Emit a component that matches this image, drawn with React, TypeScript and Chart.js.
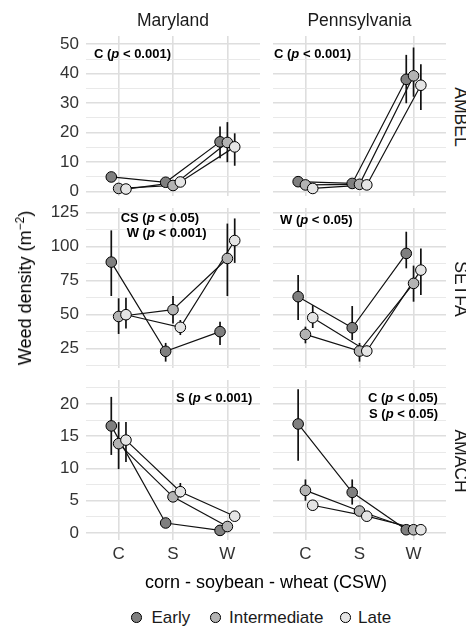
import React, { useEffect, useRef } from 'react';
import { Chart, registerables } from 'chart.js';
Chart.register(...registerables);

const FONT = '"Liberation Sans", Arial, Helvetica, sans-serif';

const categories = ['C', 'S', 'W'];
const timings = ['Early', 'Intermediate', 'Late'];
const timingFills = ['#7f7f7f', '#b3b3b3', '#e5e5e5'];
const regions = ['Maryland', 'Pennsylvania'];
const species = ['AMBEL', 'SETFA', 'AMACH'];

const ambelTicks = [0, 10, 20, 30, 40, 50];
const setfaTicks = [25, 50, 75, 100, 125];
const amachTicks = [0, 5, 10, 15, 20];

// rows: Early, Intermediate, Late ; columns: C, S, W
const ambelMdMean = [[5.0, 3.2, 16.9], [1.1, 2.1, 16.7], [0.9, 3.3, 15.2]];
const ambelMdLo = [[null, null, 11.3], [null, null, 10.0], [null, null, 8.8]];
const ambelMdHi = [[null, null, 22.1], [null, null, 23.6], [null, null, 19.8]];

const ambelPaMean = [[3.4, 2.8, 38.1], [2.3, 2.5, 39.3], [1.1, 2.3, 36.1]];
const ambelPaLo = [[null, null, 30.0], [null, null, 32.2], [null, null, 27.7]];
const ambelPaHi = [[null, null, 46.4], [null, null, 48.9], [null, null, 43.2]];

const setfaMdMean = [[88.6, 22.8, 37.3], [48.5, 53.5, 91.3], [49.8, 40.5, 104.5]];
const setfaMdLo = [[63.6, 15.2, 27.5], [35.6, 43.4, 63.6], [39.7, 34.8, 88.0]];
const setfaMdHi = [[112.0, 29.0, 44.7], [61.9, 63.6, 117.0], [62.3, 45.9, 120.8]];

const setfaPaMean = [[63.1, 40.2, 95.0], [35.3, 23.0, 72.9], [47.6, 23.0, 82.7]];
const setfaPaLo = [[45.9, 31.1, 84.0], [28.7, 15.2, 59.4], [40.0, 19.0, 64.3]];
const setfaPaHi = [[79.0, 56.2, 111.0], [41.0, 29.0, 86.0], [56.9, 27.0, 98.7]];

const amachMdMean = [[16.6, 1.55, 0.4], [13.85, 5.6, 1.0], [14.4, 6.4, 2.6]];
const amachMdLo = [[12.1, null, null], [9.9, null, null], [11.0, 5.5, null]];
const amachMdHi = [[21.1, null, null], [17.2, null, null], [17.2, 7.75, null]];

const amachPaMean = [[16.9, 6.3, 0.5], [6.6, 3.4, 0.5], [4.3, 2.6, 0.5]];
const amachPaLo = [[11.2, 4.4, null], [5.0, null, null], [null, null, null]];
const amachPaHi = [[22.3, 8.3, null], [8.3, null, null], [null, null, null]];

const dodge = [-0.135, 0, 0.135];

// layout
const colLeft = [86, 273];
const colRight = [260, 446];
const rowTop = [36, 208, 380];
const rowBottom = [196, 368, 540];
const rowLimits = [[-1.46, 52.8], [10.5, 128.5], [-1.09, 23.72]];
const rowTicks = [ambelTicks, setfaTicks, amachTicks];

const panelData = [
  [[ambelMdMean, ambelMdLo, ambelMdHi], [ambelPaMean, ambelPaLo, ambelPaHi]],
  [[setfaMdMean, setfaMdLo, setfaMdHi], [setfaPaMean, setfaPaLo, setfaPaHi]],
  [[amachMdMean, amachMdLo, amachMdHi], [amachPaMean, amachPaLo, amachPaHi]],
];

type PanelProps = { row: number; col: number };

function Panel({ row, col }: PanelProps) {
  const ref = useRef<HTMLCanvasElement>(null);
  const padTop = 12;
  const padRight = 4;
  const leftExtra = col === 0 ? colLeft[0] : 0;
  const bottomExtra = row === 2 ? 30 : 0;
  const padBottom = row === 2 ? 0 : 8;
  const pw = colRight[col] - colLeft[col];
  const ph = rowBottom[row] - rowTop[row];
  const cw = leftExtra + pw + padRight;
  const chh = padTop + ph + bottomExtra + padBottom;
  const left = colLeft[col] - leftExtra;
  const top = rowTop[row] - padTop;

  useEffect(() => {
    const canvas = ref.current!;
    const [mean, lo, hi] = panelData[row][col];
    const [yMin, yMax] = rowLimits[row];
    const ticks = rowTicks[row];
    const step = ticks[1] - ticks[0];
    const gridVals: number[] = [];
    for (let v = ticks[0] - step / 2; v <= ticks[ticks.length - 1] + step / 2 + 1e-9; v += step / 2) {
      if (v >= yMin && v <= yMax) gridVals.push(+v.toFixed(4));
    }
    const major = new Set(ticks);

    const datasets: any[] = [];
    timings.forEach((t, k) => {
      const pts = categories.map((c, i) => ({ x: i + 1 + dodge[k], y: mean[k][i] }));
      datasets.push({
        label: t,
        data: pts,
        showLine: false,
        pointRadius: 5.3,
        pointBackgroundColor: timingFills[k],
        pointBorderColor: '#000',
        pointBorderWidth: 1,
        order: 2 - k,
        clip: false,
      });
    });
    timings.forEach((t, k) => {
      const pts = categories.map((c, i) => ({ x: i + 1 + dodge[k], y: mean[k][i] }));
      datasets.push({
        label: t + ' line',
        data: pts,
        pointRadius: 0,
        borderColor: '#111',
        borderWidth: 1.2,
        fill: false,
        tension: 0,
        order: 10 - k,
        clip: false,
      });
    });

    const errPlugin = {
      id: 'errbars',
      beforeDatasetsDraw(chart: any) {
        const { ctx } = chart;
        const xs = chart.scales.x;
        const ys = chart.scales.y;
        ctx.save();
        ctx.strokeStyle = '#111';
        ctx.lineWidth = 1.7;
        timings.forEach((t, k) => {
          categories.forEach((c, i) => {
            const l = lo[k][i];
            const h = hi[k][i];
            if (l == null || h == null) return;
            const px = xs.getPixelForValue(i + 1 + dodge[k]);
            ctx.beginPath();
            ctx.moveTo(px, ys.getPixelForValue(l));
            ctx.lineTo(px, ys.getPixelForValue(h));
            ctx.stroke();
          });
        });
        ctx.restore();
      },
    };

    const chart = new Chart(canvas, {
      type: 'line',
      data: { datasets },
      plugins: [errPlugin],
      options: {
        animation: false,
        responsive: false,
        devicePixelRatio: 1,
        events: [],
        layout: { autoPadding: false, padding: { top: padTop, right: padRight, bottom: padBottom, left: 0 } },
        plugins: { legend: { display: false }, tooltip: { enabled: false } },
        scales: {
          x: {
            type: 'linear',
            min: 0.4,
            max: 3.6,
            afterBuildTicks: (s: any) => {
              s.ticks = categories.map((c, i) => ({ value: i + 1 }));
            },
            afterFit: (s: any) => {
              s.height = bottomExtra;
              s.paddingLeft = 0;
              s.paddingRight = 0;
              s.paddingTop = 0;
              s.paddingBottom = 0;
            },
            grid: { color: '#dedede', lineWidth: 1.6, drawTicks: false },
            border: { display: false },
            ticks: {
              display: row === 2,
              color: '#333',
              font: { family: FONT, size: 17 },
              padding: 4,
              autoSkip: false,
              maxRotation: 0,
              callback: (v: any) => categories[Math.round(v) - 1] ?? '',
            },
          },
          y: {
            type: 'linear',
            min: yMin,
            max: yMax,
            afterBuildTicks: (s: any) => {
              s.ticks = gridVals.map((v) => ({ value: v }));
            },
            afterFit: (s: any) => {
              s.width = leftExtra;
              s.paddingLeft = 0;
              s.paddingRight = 0;
              s.paddingTop = 0;
              s.paddingBottom = 0;
            },
            grid: {
              color: (c: any) => (c.tick && major.has(c.tick.value) ? '#dedede' : '#e6e6e6'),
              lineWidth: (c: any) => (c.tick && major.has(c.tick.value) ? 1.6 : 0.9),
              drawTicks: false,
            },
            border: { display: false },
            ticks: {
              display: col === 0,
              color: '#333',
              font: { family: FONT, size: 17 },
              padding: 7,
              autoSkip: false,
              callback: (v: any) => (major.has(v) ? String(v) : ''),
            },
          },
        },
      } as any,
    });
    return () => chart.destroy();
  }, [row, col]);

  return (
    <canvas
      ref={ref}
      width={cw}
      height={chh}
      style={{ position: 'absolute', left, top, width: cw, height: chh }}
    />
  );
}

type Note = { x: number; y: number; term: string; p: string };
const notes: Note[] = [
  { x: 94, y: 53, term: 'C', p: '0.001' },
  { x: 274, y: 53, term: 'C', p: '0.001' },
  { x: 120.7, y: 217, term: 'CS', p: '0.05' },
  { x: 126.7, y: 232, term: 'W', p: '0.001' },
  { x: 280, y: 219, term: 'W', p: '0.05' },
  { x: 176, y: 397, term: 'S', p: '0.001' },
  { x: 368, y: 397, term: 'C', p: '0.05' },
  { x: 369, y: 413, term: 'S', p: '0.05' },
];

const txt: React.CSSProperties = {
  position: 'absolute',
  whiteSpace: 'nowrap',
  lineHeight: 1,
  fontFamily: FONT,
  color: '#1a1a1a',
};

export default function App() {
  const cells: React.ReactNode[] = [];
  for (let r = 0; r < 3; r++) for (let c = 0; c < 2; c++) cells.push(<Panel key={r + '-' + c} row={r} col={c} />);

  const legendX = [[136, 151.5], [215, 229], [345, 358]];

  return (
    <div style={{ position: 'absolute', left: 0, top: 0, width: 466, height: 626, background: '#fff', overflow: 'hidden' }}>
      {cells}
      {regions.map((name, c) => (
        <div key={name} style={{ ...txt, fontSize: 17.5, left: (colLeft[c] + colRight[c]) / 2, top: 21, transform: 'translate(-50%, -50%)' }}>
          {name}
        </div>
      ))}
      {species.map((name, r) => (
        <div key={name} style={{ ...txt, fontSize: 17.5, left: 460, top: (rowTop[r] + rowBottom[r]) / 2 + 1, transform: 'translate(-50%, -50%) rotate(90deg)' }}>
          {name}
        </div>
      ))}
      <div style={{ ...txt, fontSize: 18, color: '#000', left: 25, top: 288, transform: 'translate(-50%, -50%) rotate(-90deg)' }}>
        Weed density (m<sup style={{ fontSize: 12, verticalAlign: 'baseline', position: 'relative', top: -7 }}>−2</sup>)
      </div>
      <div style={{ ...txt, fontSize: 18, color: '#000', left: (colLeft[0] + colRight[1]) / 2, top: 582, transform: 'translate(-50%, -50%)' }}>
        corn - soybean - wheat (CSW)
      </div>
      {notes.map((n, i) => (
        <div key={i} style={{ ...txt, fontSize: 13, fontWeight: 'bold', color: '#000', left: n.x, top: n.y, transform: 'translateY(-50%)' }}>
          {n.term} (<i>p</i> &lt; {n.p})
        </div>
      ))}
      {timings.map((t, k) => (
        <React.Fragment key={t}>
          <div style={{ position: 'absolute', left: legendX[k][0] - 5, top: 617 - 5, width: 8.5, height: 8.5, borderRadius: '50%', background: timingFills[k], border: '1px solid #000' }} />
          <div style={{ ...txt, fontSize: 17, color: '#1a1a1a', left: legendX[k][1], top: 617, transform: 'translateY(-50%)' }}>{t}</div>
        </React.Fragment>
      ))}
    </div>
  );
}
